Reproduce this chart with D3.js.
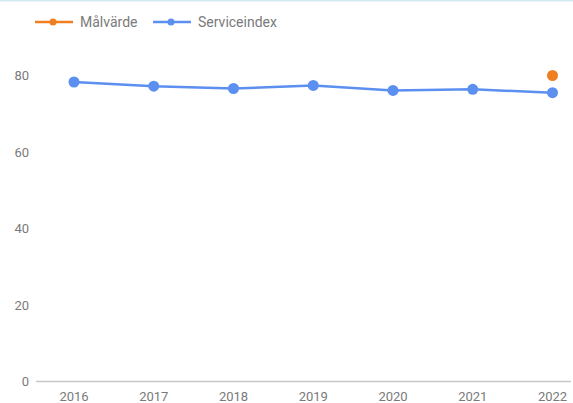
<!DOCTYPE html>
<html>
<head>
<meta charset="utf-8">
<script src="https://cdn.jsdelivr.net/npm/d3@7"></script>
<style>
  html, body { margin: 0; padding: 0; background: #fff; }
  svg { display: block; font-family: Roboto, "Noto Sans", sans-serif; }
</style>
</head>
<body>
<svg id="chart" width="573" height="403"></svg>
<script>
// Years on the x axis
const years = ["2016", "2017", "2018", "2019", "2020", "2021", "2022"];
// Service index per year
const serviceIndex = [78.3, 77.2, 76.6, 77.4, 76.1, 76.4, 75.5];
// Target value, only set for the last year
const targetValue = [null, null, null, null, null, null, 80];
// Y axis ticks
const yTicks = [0, 20, 40, 60, 80];

const seriesNames = ["Målvärde", "Serviceindex"];
const colors = { "Målvärde": "#f07f22", "Serviceindex": "#5b8ff0" };

const W = 573, H = 403;
const svg = d3.select("#chart");

// thin frame line along the top
svg.append("rect").attr("x", 0).attr("y", 0).attr("width", W).attr("height", 1.5)
  .attr("fill", "#d4e8f5");

const x = d3.scalePoint().domain(years).range([74, 552.5]);
const y = d3.scaleLinear().domain([0, 80]).range([381.5, 75.5]);

// y tick labels
svg.append("g").selectAll("text").data(yTicks).join("text")
  .attr("x", 29).attr("y", d => y(d)).attr("dy", "0.35em")
  .attr("text-anchor", "end")
  .attr("font-size", 13).attr("fill", "#7a7a7a")
  .text(d => d);

// baseline
svg.append("line")
  .attr("x1", 36).attr("x2", 571)
  .attr("y1", y(0)).attr("y2", y(0))
  .attr("stroke", "#c8c8c8").attr("stroke-width", 1.5);

// x tick labels
svg.append("g").selectAll("text").data(years).join("text")
  .attr("x", d => x(d)).attr("y", 396.5).attr("dy", "0.35em")
  .attr("text-anchor", "middle")
  .attr("font-size", 13).attr("fill", "#7a7a7a")
  .text(d => d);

// service index line
const pts = years.map((yr, i) => ({ yr, v: serviceIndex[i] }));
svg.append("path")
  .datum(pts)
  .attr("fill", "none")
  .attr("stroke", colors["Serviceindex"])
  .attr("stroke-width", 2.5)
  .attr("d", d3.line().x(d => x(d.yr)).y(d => y(d.v)));

svg.append("g").selectAll("circle").data(pts).join("circle")
  .attr("cx", d => x(d.yr)).attr("cy", d => y(d.v)).attr("r", 5.5)
  .attr("fill", colors["Serviceindex"]);

// target points
const tpts = years.map((yr, i) => ({ yr, v: targetValue[i] })).filter(d => d.v != null);
svg.append("g").selectAll("circle").data(tpts).join("circle")
  .attr("cx", d => x(d.yr)).attr("cy", d => y(d.v)).attr("r", 5.5)
  .attr("fill", colors["Målvärde"]);

// legend
const legendPos = [35, 153];
const lg = svg.append("g").selectAll("g").data(seriesNames).join("g")
  .attr("transform", (d, i) => `translate(${legendPos[i]},22)`);
lg.append("line").attr("x1", 0).attr("x2", 38).attr("y1", 0).attr("y2", 0)
  .attr("stroke", d => colors[d]).attr("stroke-width", 2.5);
lg.append("circle").attr("cx", 18).attr("cy", 0).attr("r", 3.5)
  .attr("fill", d => colors[d]);
lg.append("text").attr("x", 45).attr("y", 0).attr("dy", "0.35em")
  .attr("font-size", 14).attr("fill", "#7a7a7a")
  .text(d => d);
</script>
</body>
</html>
